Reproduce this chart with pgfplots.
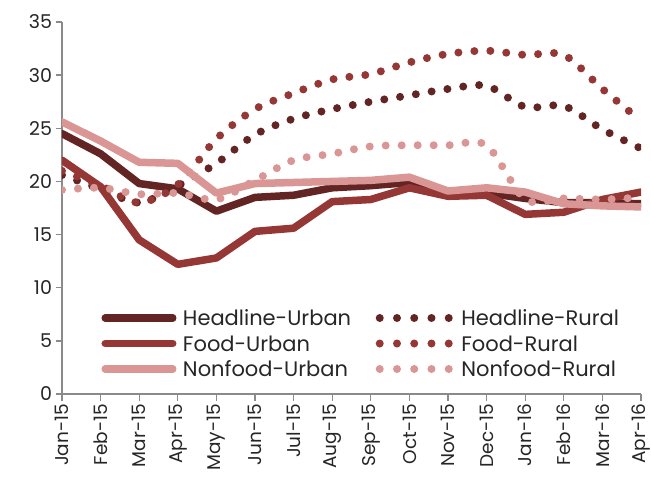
\documentclass[border=0pt]{standalone}
\usepackage{fontspec}
\setmainfont{Poppins}
\usepackage{pgfplots}
\pgfplotsset{compat=1.18}
\definecolor{hd}{HTML}{632523}
\definecolor{fd}{HTML}{953735}
\definecolor{nf}{HTML}{D99694}
\definecolor{axc}{HTML}{8A8A8A}
\pgfplotsset{
  solidser/.style={line width=7.5bp, line cap=round, line join=round,
    legend image code/.code={\draw[##1] (0bp,0bp) -- (67.5bp,0bp);}},
  dotser/.style={line width=8bp, line cap=round, dash pattern=on 0pt off 16bp, smooth, tension=0.5,
    legend image code/.code={\draw[##1, dash pattern=on 0pt off 17.25bp] (0bp,0bp) -- (69.1bp,0bp);}},
}
\begin{document}
\begin{tikzpicture}
\useasboundingbox (-62bp,-83bp) rectangle (589bp,394bp);
\begin{axis}[
  scale only axis, width=579bp, height=372bp,
  at={(0,0)}, anchor=south west,
  xmin=0, xmax=15, ymin=0, ymax=35,
  axis x line*=bottom, axis y line*=left,
  axis line style={axc, line width=1.3bp, -},
  tick align=outside, major tick length=6.5bp,
  tick style={axc, line width=1.3bp},
  xtick={0,...,15},
  xticklabels={Jan-15,Feb-15,Mar-15,Apr-15,May-15,Jun-15,Jul-15,Aug-15,Sep-15,Oct-15,Nov-15,Dec-15,Jan-16,Feb-16,Mar-16,Apr-16},
  ytick={0,5,...,35},
  /pgf/number format/assume math mode=true,
  x tick label style={rotate=90, anchor=east, font=\fontsize{18.5bp}{20bp}\selectfont, text=black!85},
  y tick label style={font=\fontsize{19bp}{21bp}\selectfont, text=black!85},
  legend columns=2,
  legend cell align=left,
  legend style={draw=none, fill=none, inner sep=0pt, outer sep=0pt,
    at={(axis description cs:0.0682,0.2352)}, anchor=north west,
    font=\fontsize{21bp}{23bp}\selectfont, text=black!85,
    nodes={inner sep=0pt, text height=19bp, text depth=4bp},
    row sep=2.5bp,
    /tikz/column 1/.style={column sep=6.5bp},
    /tikz/column 2/.style={column sep=24.6bp},
    /tikz/column 3/.style={column sep=8.5bp}},
]
\addplot[solidser, hd] coordinates {(0,24.5)(1,22.6)(2,19.8)(3,19.3)(4,17.2)(5,18.5)(6,18.7)(7,19.4)(8,19.6)(9,19.9)(10,18.8)(11,18.9)(12,18.4)(13,18.0)(14,18.0)(15,17.9)};
\addlegendentry{Headline-Urban}
\addplot[dotser, hd] coordinates {(0,20.6)(1,19.3)(2,18.0)(3,19.6)(4,21.7)(5,24.4)(6,25.9)(7,26.8)(8,27.5)(9,28.1)(10,28.7)(11,29.0)(12,27.0)(13,27.1)(14,24.9)(15,23.1)};
\addlegendentry{Headline-Rural}
\addplot[solidser, fd] coordinates {(0,22.0)(1,19.5)(2,14.5)(3,12.2)(4,12.8)(5,15.3)(6,15.6)(7,18.1)(8,18.3)(9,19.4)(10,18.6)(11,18.7)(12,16.9)(13,17.1)(14,18.3)(15,19.0)};
\addlegendentry{Food-Urban}
\addplot[dotser, fd] coordinates {(0,21.0)(1,19.6)(2,18.0)(3,19.7)(4,24.0)(5,26.8)(6,28.3)(7,29.6)(8,30.1)(9,31.2)(10,32.0)(11,32.3)(12,31.9)(13,31.9)(14,28.7)(15,25.7)};
\addlegendentry{Food-Rural}
\addplot[solidser, nf] coordinates {(0,25.6)(1,23.8)(2,21.8)(3,21.7)(4,18.9)(5,19.8)(6,19.9)(7,20.0)(8,20.1)(9,20.4)(10,19.1)(11,19.4)(12,19.0)(13,17.9)(14,17.7)(15,17.6)};
\addlegendentry{Nonfood-Urban}
\addplot[dotser, nf] coordinates {(0,19.2)(1,19.4)(2,18.8)(3,18.9)(4,18.3)(5,20.1)(6,22.0)(7,22.6)(8,23.3)(9,23.4)(10,23.4)(11,23.4)(12,18.3)(13,18.4)(14,18.3)(15,18.5)};
\addlegendentry{Nonfood-Rural}
\end{axis}
\end{tikzpicture}
\end{document}
